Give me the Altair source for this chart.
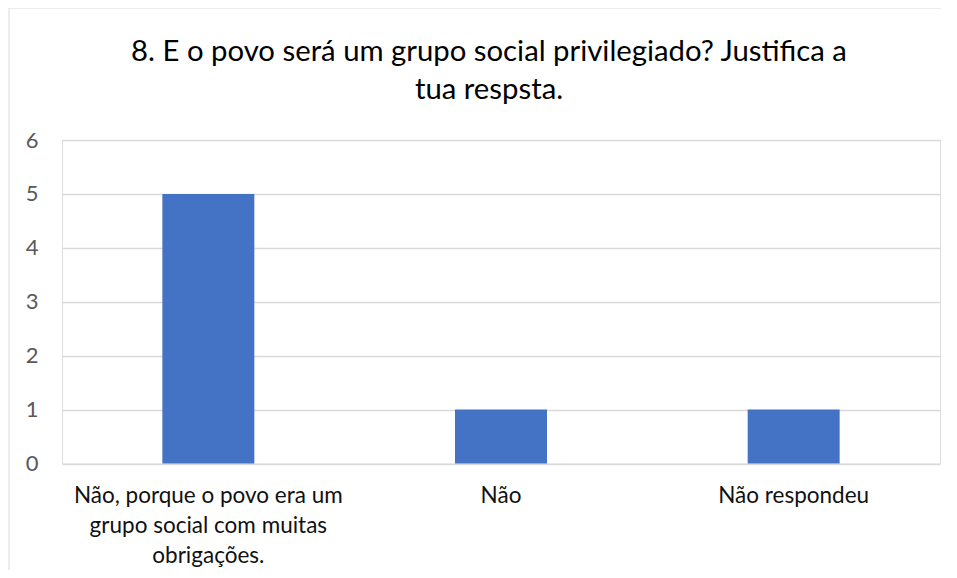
import altair as alt
import pandas as pd

categories = [
    "Não, porque o povo era um grupo social com muitas obrigações.",
    "Não",
    "Não respondeu",
]
values = [5, 1, 1]
title_lines = ["8. E o povo será um grupo social privilegiado? Justifica a", "tua respsta."]
y_ticks = [0, 1, 2, 3, 4, 5, 6]

df = pd.DataFrame({"categoria": categories, "valor": values})

FONT = "Lato"

label_expr = (
    "datum.label == 'Não, porque o povo era um grupo social com muitas obrigações.' "
    "? ['Não, porque o povo era um', 'grupo social com muitas', 'obrigações.'] : datum.label"
)

frame = alt.Chart(df).mark_rect(fill="transparent", stroke="#d9d9d9", strokeWidth=1).encode(
    x=alt.value(-53), x2=alt.value(960), y=alt.value(-132), y2=alt.value(600)
).transform_filter("datum.valor == 5")

bars = alt.Chart(df).mark_bar(color="#4472c4").encode(
    x=alt.X(
        "categoria:N",
        sort=categories,
        scale=alt.Scale(paddingInner=0.6857, paddingOuter=0.3429),
        axis=alt.Axis(
            title=None,
            labelAngle=0,
            labelExpr=label_expr,
            labelFont=FONT,
            labelFontSize=22.5,
            labelColor="#111111",
            labelLineHeight=30,
            labelPadding=21,
            labelBaseline="top",
            ticks=False,
            domain=False,
            grid=False,
            labelLimit=400,
        ),
    ),
    y=alt.Y(
        "valor:Q",
        scale=alt.Scale(domain=[0, 6], nice=False),
        axis=alt.Axis(
            title=None,
            values=y_ticks,
            format="d",
            labelFont=FONT,
            labelFontSize=22,
            labelColor="#595959",
            labelPadding=24,
            ticks=False,
            domain=False,
            gridColor="#d9d9d9",
            gridWidth=1.5,
        ),
    ),
)

chart = (
    alt.layer(frame, bars)
    .properties(
        width=878,
        height=323.5,
        title=alt.TitleParams(
            text=title_lines,
            font=FONT,
            fontSize=29.3,
            fontWeight="normal",
            color="#000000",
            anchor="middle",
            lineHeight=38,
            offset=-98,
            dx=-12,
        ),
        autosize=alt.AutoSizeParams(type="none"),
        padding={"left": 54, "top": 132, "right": 1, "bottom": 106},
    )
    .configure_view(stroke="transparent", strokeWidth=0)
    .configure(background="white")
)

chart.save("out.html", embed_options={"renderer": "svg", "actions": False})
